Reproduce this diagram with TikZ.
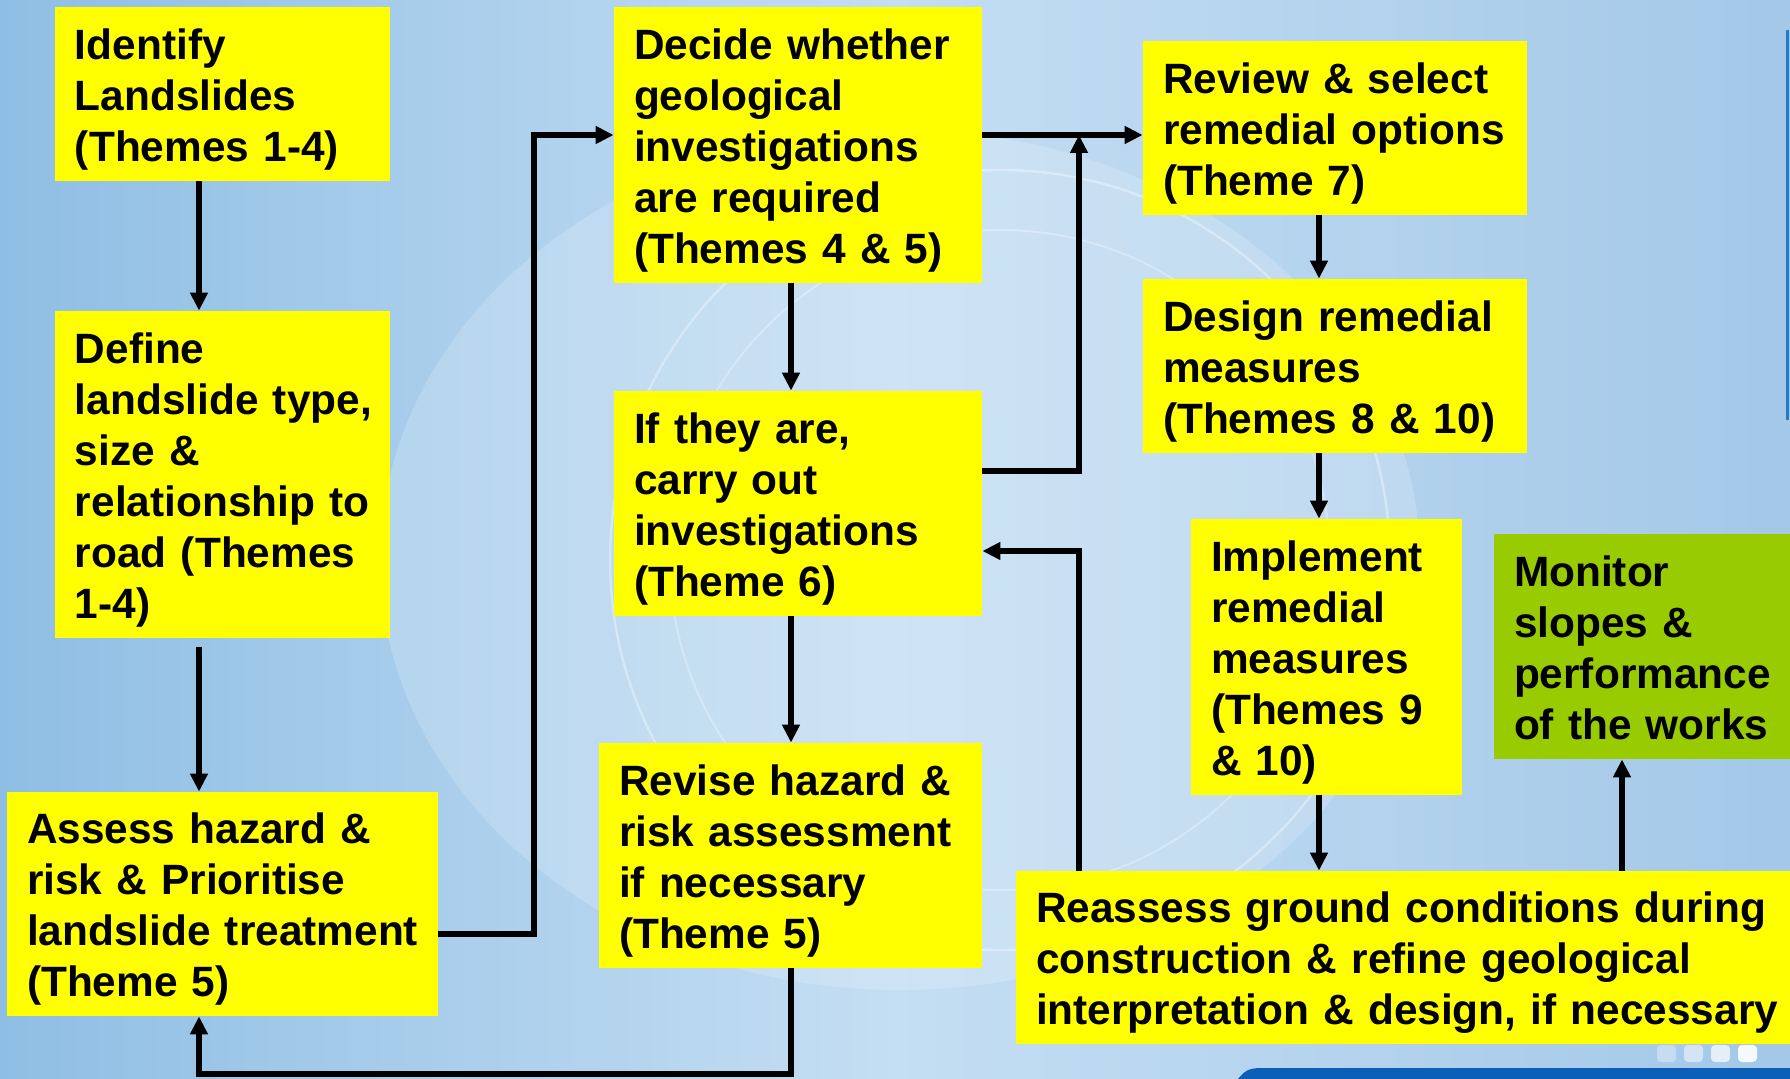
\documentclass[tikz,border=0pt]{standalone}
\usepackage{fontspec}
\setmainfont{Liberation Sans}
\usetikzlibrary{arrows.meta,calc}
\definecolor{boxyellow}{HTML}{FFFF00}
\definecolor{boxgreen}{HTML}{99CC00}
\definecolor{bgA}{HTML}{8FBEE4}
\definecolor{bgB}{HTML}{C4DEF3}
\definecolor{bgC}{HTML}{A3C8E8}
\definecolor{barblue}{HTML}{0B5FB8}
\definecolor{edgeblue}{HTML}{2A78C8}
\newcommand{\boxtext}[1]{\raisebox{-3pt}[\height][\depth]{\begin{tabular}{@{}l@{}}#1\end{tabular}}}
\begin{document}
\begin{tikzpicture}[x=0.5pt,y=-0.5pt,
  box/.style={fill=boxyellow, draw=none, inner xsep=10pt, inner ysep=0pt,
    font=\fontsize{21.2pt}{25.5pt}\selectfont\bfseries},
  gbox/.style={box, fill=boxgreen},
  ln/.style={line width=2.7pt, line join=miter},
  arr/.style={ln, -{Triangle[length=9pt,width=8.5pt]}}]
\useasboundingbox (0,0) rectangle (1790,1079);
% background
\shade[left color=bgA, right color=bgC, middle color=bgB] (0,0) rectangle (1790,1079);
\fill[white, opacity=0.18] (900,560) ellipse (520 and 430);
\draw[white, opacity=0.35, line width=1.2pt] (1000,560) circle (390);
\draw[white, opacity=0.3, line width=1pt] (1000,560) circle (330);
\draw[edgeblue, line width=1.5pt] (1787,30) -- (1787,420);
\fill[barblue] (1238,1079) .. controls (1245,1070) and (1250,1068) .. (1262,1068) -- (1790,1068) -- (1790,1079) -- cycle;
\foreach \i/\o in {0/0.35,1/0.5,2/0.7,3/0.9}
  \fill[white, opacity=\o, rounded corners=2pt] ({1657+\i*27},1045) rectangle ({1676+\i*27},1062);

% boxes
\node[box, text width=147.5pt, minimum height=87pt] (b1) at (222.5,94)
  {\boxtext{Identify\\Landslides\\(Themes 1-4)}};
\node[box, text width=147.5pt, minimum height=163.5pt] (b2) at (222.5,474.5)
  {\boxtext{Define\\landslide type,\\size \&\\relationship to\\road (Themes\\1-4)}};
\node[box, text width=195.5pt, minimum height=112pt] (b3) at (222.5,904)
  {\boxtext{Assess hazard \&\\risk \& Prioritise\\landslide treatment\\(Theme 5)}};
\node[box, text width=164pt, minimum height=138pt] (b4) at (798,145)
  {\boxtext{Decide whether\\geological\\investigations\\are required\\(Themes 4 \& 5)}};
\node[box, text width=164pt, minimum height=112.5pt] (b5) at (798,503.5)
  {\boxtext{If they are,\\carry out\\investigations\\(Theme 6)}};
\node[box, text width=171.5pt, minimum height=112.5pt] (b6) at (790.5,855.5)
  {\boxtext{Revise hazard \&\\risk assessment\\if necessary\\(Theme 5)}};
\node[box, text width=172pt, minimum height=87pt] (b7) at (1335,128)
  {\boxtext{Review \& select\\remedial options\\(Theme 7)}};
\node[box, text width=172pt, minimum height=87pt] (b8) at (1335,366)
  {\boxtext{Design remedial\\measures\\(Themes 8 \& 10)}};
\node[box, text width=115.5pt, minimum height=138pt] (b9) at (1326.5,657)
  {\boxtext{Implement\\remedial\\measures\\(Themes 9\\\& 10)}};
\node[gbox, text width=128pt, minimum height=112.5pt] (b10) at (1642,646.5)
  {\boxtext{Monitor\\slopes \&\\performance\\of the works}};
\node[box, text width=367pt, minimum height=86.5pt] (b11) at (1403,957.5)
  {\boxtext{Reassess ground conditions during\\construction \& refine geological\\interpretation \& design, if necessary}};

% helper coordinates
\coordinate (xL) at (199,0);
\coordinate (xV) at (534,0);
\coordinate (xM) at (791,0);
\coordinate (xJ) at (1079,0);
\coordinate (xR) at (1319,0);
\coordinate (xG) at (1622,0);
\coordinate (yT) at (0,135);
\coordinate (y3) at (0,934);
\coordinate (y5) at (0,471);
\coordinate (y5b) at (0,551);
\coordinate (yB) at (0,1074);

% connectors
\draw[arr] (xL |- b1.south) -- (xL |- b2.north);
\draw[arr] ($(xL |- b2.south)+(0,9)$) -- (xL |- b3.north);
\draw[arr] (b3.east |- y3) -| (xV |- yT) -- (b4.west |- yT);
\draw[arr] (xM |- b4.south) -- (xM |- b5.north);
\draw[arr] (xM |- b5.south) -- (xM |- b6.north);
\draw[arr] (xM |- b6.south) |- (xL |- yB) -- (xL |- b3.south);
\draw[arr] (b4.east |- yT) -- (b7.west |- yT);
\draw[arr] (b5.east |- y5) -| (xJ |- yT);
\draw[arr] (xJ |- b11.north) |- (b5.east |- y5b);
\draw[arr] (xR |- b7.south) -- (xR |- b8.north);
\draw[arr] (xR |- b8.south) -- (xR |- b9.north);
\draw[arr] (xR |- b9.south) -- (xR |- b11.north);
\draw[arr] (xG |- b11.north) -- (xG |- b10.south);
\end{tikzpicture}
\end{document}
